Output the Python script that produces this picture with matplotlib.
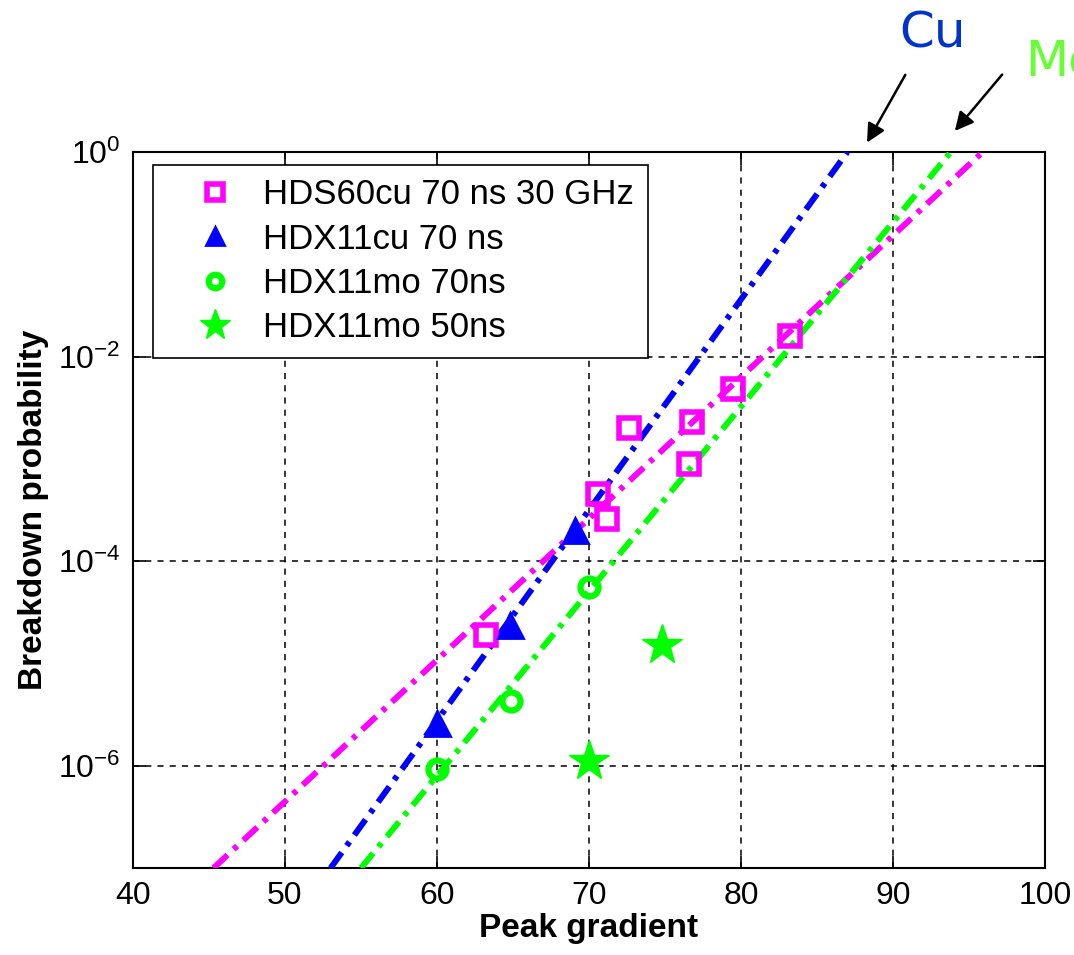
import numpy as np
import matplotlib
matplotlib.use("Agg")
import matplotlib.pyplot as plt
from matplotlib.ticker import FixedLocator, FuncFormatter, NullLocator

plt.rcParams['font.family'] = ['Liberation Sans', 'DejaVu Sans']
plt.rcParams['mathtext.fontset'] = 'custom'
plt.rcParams['mathtext.rm'] = 'Liberation Sans'

# ---- data ----
hds60_x = [63.2, 72.6, 70.6, 71.2, 76.8, 76.6, 79.5, 83.2]
hds60_y = [1.9e-5, 2.0e-3, 4.5e-4, 2.6e-4, 2.3e-3, 9.0e-4, 4.8e-3, 1.6e-2]

hdx11cu_x = [60.0, 64.8, 69.1]
hdx11cu_y = [2.6e-6, 2.4e-5, 2.0e-4]

hdx11mo70_x = [60.0, 64.9, 70.0]
hdx11mo70_y = [9.3e-7, 4.3e-6, 5.6e-5]

hdx11mo50_x = [70.0, 74.8]
hdx11mo50_y = [1.1e-6, 1.5e-5]

fit_p = [1e-7, 1e0]
fit_hds60_x = [45.3, 95.9]
fit_hdx11cu_x = [53.0, 87.0]
fit_hdx11mo_x = [55.0, 93.8]

xticks = [40, 50, 60, 70, 80, 90, 100]
yticks = [1e-6, 1e-4, 1e-2, 1e0]

labels = ['HDS60cu 70 ns 30 GHz', 'HDX11cu 70 ns', 'HDX11mo 70ns', 'HDX11mo 50ns']

magenta = '#FF00FF'
blue = '#0000FF'
green = '#00FF00'

fig = plt.figure(figsize=(10.74, 9.55), dpi=100)
ax = fig.add_axes([133/1074, 87/955, 912/1074, 716/955])

dash = (0, (3.2, 1.4, 0.8, 1.4))
ax.plot(fit_hds60_x, fit_p, color=magenta, lw=4.3, linestyle=dash, zorder=3)
ax.plot(fit_hdx11cu_x, fit_p, color=blue, lw=4.3, linestyle=dash, zorder=3)
ax.plot(fit_hdx11mo_x, fit_p, color=green, lw=4.3, linestyle=dash, zorder=3)

h1, = ax.plot(hds60_x, hds60_y, 's', ms=15, mfc='none', mec=magenta, mew=4, label=labels[0], zorder=4)
h2, = ax.plot(hdx11cu_x, hdx11cu_y, '^', ms=18, mfc=blue, mec=blue, mew=2, label=labels[1], zorder=4)
h3, = ax.plot(hdx11mo70_x, hdx11mo70_y, 'o', ms=13, mfc='none', mec=green, mew=4.5, label=labels[2], zorder=4)
h4, = ax.plot(hdx11mo50_x, hdx11mo50_y, '*', ms=30, mfc=green, mec=green, mew=1, label=labels[3], zorder=4)

ax.set_yscale('log')
ax.set_xlim(40, 100)
ax.set_ylim(1e-7, 1e0)
ax.xaxis.set_major_locator(FixedLocator(xticks))
ax.yaxis.set_major_locator(FixedLocator(yticks))
ax.yaxis.set_minor_locator(NullLocator())
ax.yaxis.set_major_formatter(FuncFormatter(lambda v, p: r'$\mathregular{10^{%d}}$' % int(round(np.log10(v)))))
ax.tick_params(axis='both', which='major', direction='in', length=9, width=1.2,
               top=True, right=True, labelsize=23, pad=9)
ax.grid(True, which='major', color='black', linestyle=(0, (4, 4)), linewidth=1.1)
for s in ax.spines.values():
    s.set_linewidth(1.5)

ax.set_xlabel('Peak gradient', fontsize=24, fontweight='bold', labelpad=2)
ax.set_ylabel('Breakdown probability', fontsize=24, fontweight='bold', labelpad=6)

leg = ax.legend(handles=[h1, h2, h3, h4], loc='upper left', bbox_to_anchor=(0.022, 0.982),
                borderaxespad=0, fontsize=25, fancybox=False, edgecolor='black',
                framealpha=1, labelspacing=0.33, handletextpad=0.0, handlelength=2.8,
                borderpad=0.38, markerscale=0.75)
leg.get_frame().set_linewidth(1.2)
leg.set_zorder(5)

# annotations
ax.text(92.6, 14.5, 'Cu', color='#0033CC', fontsize=36, family='DejaVu Sans',
        ha='center', va='center', clip_on=False)
ax.text(98.7, 7.6, 'Mo', color='#66FF33', fontsize=36, family='DejaVu Sans',
        ha='left', va='center', clip_on=False)
ax.annotate('', xy=(88.2, 1.17), xytext=(90.9, 6.0), annotation_clip=False,
            arrowprops=dict(arrowstyle='-|>', color='black', lw=1.8, mutation_scale=28))
ax.annotate('', xy=(93.95, 1.53), xytext=(97.3, 6.0), annotation_clip=False,
            arrowprops=dict(arrowstyle='-|>', color='black', lw=1.8, mutation_scale=28))

fig.savefig('out.png', dpi=100)
